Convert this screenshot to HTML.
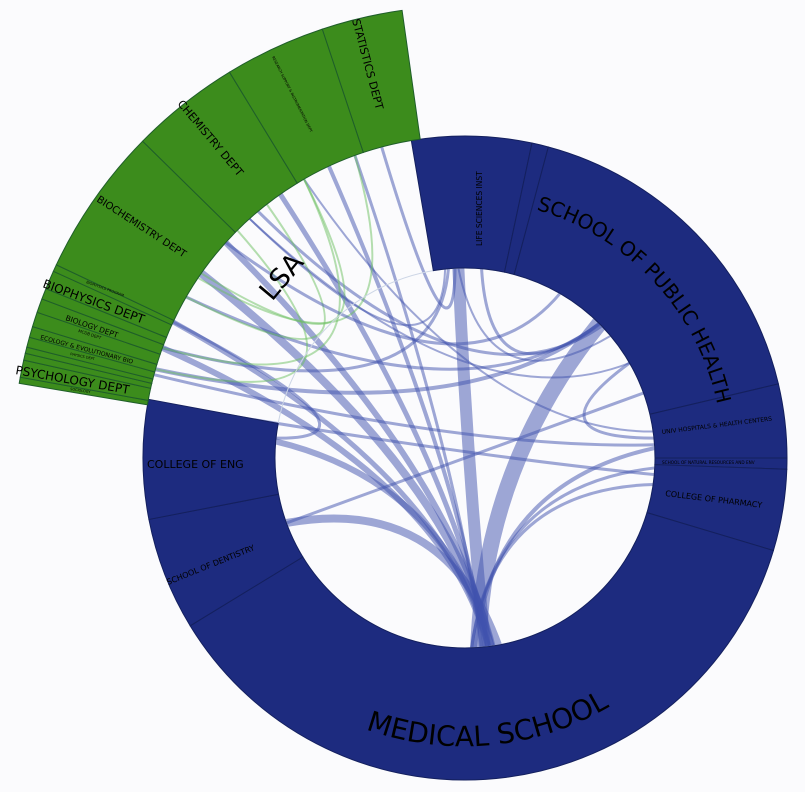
<!DOCTYPE html>
<html><head><meta charset="utf-8"><style>
html,body{margin:0;padding:0;background:#fbfbfd}
svg{display:block}
text{font-family:"DejaVu Sans","Liberation Sans",sans-serif;fill:#000}
</style></head><body>
<svg id="chart" width="805" height="792" viewBox="0 0 805 792" xmlns="http://www.w3.org/2000/svg">
<rect width="805" height="792" fill="#fbfbfd"/>
<g id="chords"></g>
<circle cx="465" cy="458" r="190" fill="none" stroke="#cdd6e6" stroke-width="1"/>
<g id="segs"></g>
<g id="labels">
<defs>
<path id="phPath" d="M 536.2 209.7 A 258 258 0 0 1 716.3 400.0"/>
<path id="msPath" d="M 360 727 A 288 288 0 0 0 645 682"/>
</defs>
<text font-size="20"><textPath href="#phPath">SCHOOL OF PUBLIC HEALTH</textPath></text>
<text font-size="28"><textPath href="#msPath" startOffset="6">MEDICAL SCHOOL</textPath></text>
<text font-size="11" transform="translate(352,20) rotate(75)">STATISTICS DEPT</text>
<text font-size="3.5" transform="translate(272,57) rotate(63)">RESEARCH SUPPORT &amp; INSTRUMENTATION DEPT</text>
<text font-size="11" transform="translate(177,104) rotate(50)">CHEMISTRY DEPT</text>
<text font-size="10" transform="translate(96,201) rotate(33)">BIOCHEMISTRY DEPT</text>
<text font-size="27" transform="translate(272,302) rotate(-50)">LSA</text>
<text font-size="12" transform="translate(42,287) rotate(20)">BIOPHYSICS DEPT</text>
<text font-size="3.5" transform="translate(86,283) rotate(20)">BIOPHYSICS PROGRAM</text>
<text font-size="7.5" transform="translate(65,320) rotate(19)">BIOLOGY DEPT</text>
<text font-size="4" transform="translate(78,332) rotate(18)">MCDB DEPT</text>
<text font-size="6" transform="translate(40,339) rotate(15)">ECOLOGY &amp; EVOLUTIONARY BIO</text>
<text font-size="3.5" transform="translate(70,355) rotate(12)">PHYSICS DEPT</text>
<text font-size="12" transform="translate(15,374) rotate(10)">PSYCHOLOGY DEPT</text>
<text font-size="3.5" transform="translate(70,390) rotate(9)">SOCIOLOGY</text>
<text font-size="7.5" transform="translate(482,246) rotate(-90)">LIFE SCIENCES INST</text>
<text font-size="6" transform="translate(662,434) rotate(-7)">UNIV HOSPITALS &amp; HEALTH CENTERS</text>
<text font-size="4.2" transform="translate(662,464)">SCHOOL OF NATURAL RESOURCES AND ENV</text>
<text font-size="8" transform="translate(665,496) rotate(7)">COLLEGE OF PHARMACY</text>
<text font-size="11" x="147" y="468">COLLEGE OF ENG</text>
<text font-size="8" transform="translate(168,585) rotate(-22)">SCHOOL OF DENTISTRY</text>
</g>
</svg>
<script>
const CX = 465, CY = 458;
// segment data: [name, startAngle, endAngle, group]
const segNames = ["life-sciences-inst","small-blue-1","school-of-public-health","univ-hospitals","school-of-nat-res","college-of-pharmacy","medical-school","school-of-dentistry","college-of-eng",
"sociology","psychology-dept","small-lsa-a","small-lsa-b","ecology-dept","small-lsa-c","biology-dept","small-lsa-d","biophysics-dept","small-lsa-e","small-lsa-f","biochemistry-dept","chemistry-dept","research-dept","statistics-dept"];
const segStart = [-99.6,-78,-75,-13.3,0,2,16.7,148.6,169, 189.5,190.3,192.5,193.4,194.2,195.5,196.9,198.8,200.6,202,204.4,205.3,224.5,238.6,251.6];
const segEnd   = [-78,-75,-13.3,0,2,16.7,148.6,169,190.5, 190.3,192.5,193.4,194.2,195.5,196.9,198.8,200.6,202,204.4,205.3,224.5,238.6,251.6,262];
const segGroup = ["b","b","b","b","b","b","b","b","b","g","g","g","g","g","g","g","g","g","g","g","g","g","g","g"];
// chords: source angle, target angle, weight
const chordSrc = [84,86,83,83,82,82,83,84,85,82,80,87,88,88,-45,-45,-44,-45,-40,-95,-93,-96,-6,-4,-8,5,186,160,215,214,210,200,196,222,228];
const chordTgt = [-92,-45,200,205,215,222,235,245,250,185,160,-3,3,8,196,210,230,-85,-92,200,255,228,-30,195,240,190,205,-20,240,250,232,240,225,-60,-30];
const chordW   = [12,16,6,5,8,6,5,4,3,6,8,4,3,3,4,3,3,3,2,3,3,2,3,3,2,3,3,3,2,2,2,2,2,3,2];
const chordGroup = ["b","b","b","b","b","b","b","b","b","b","b","b","b","b","b","b","b","b","b","b","b","b","b","b","b","b","b","b","g","g","g","g","g","b","b"];

const NS = "http://www.w3.org/2000/svg";
function pt(r, a){const t=a*Math.PI/180;return [CX+r*Math.cos(t), CY+r*Math.sin(t)];}
function inGreen(a){const x=((a%360)+360)%360;return x>189 && x<262.5;}
function anchorR(a){return inGreen(a)?322:190;}
function sector(r0,r1,a0,a1){
  const p1=pt(r1,a0),p2=pt(r1,a1),p3=pt(r0,a1),p4=pt(r0,a0);
  const lg=(a1-a0)>180?1:0;
  return `M${p1[0]} ${p1[1]}A${r1} ${r1} 0 ${lg} 1 ${p2[0]} ${p2[1]}L${p3[0]} ${p3[1]}A${r0} ${r0} 0 ${lg} 0 ${p4[0]} ${p4[1]}Z`;
}
const segG=document.getElementById('segs');
for(let i=0;i<segNames.length;i++){
  const g=segGroup[i]==="g";
  const p=document.createElementNS(NS,'path');
  p.setAttribute('d', g?sector(322,452,segStart[i],segEnd[i]):sector(190,322,segStart[i],segEnd[i]));
  p.setAttribute('fill', g?'#3c8c1c':'#1d2b7f');
  p.setAttribute('stroke', g?'#1f5e2a':'#14205e');
  p.setAttribute('stroke-width','1');
  
  
  segG.appendChild(p);
}
const chG=document.getElementById('chords');
for(let i=0;i<chordSrc.length;i++){
  const a=chordSrc[i],b=chordTgt[i];
  const p1=pt(anchorR(a),a),p2=pt(anchorR(b),b);
  let d=Math.abs(((b-a)%360+540)%360-180);
  const k=Math.max(0,(180-d)/180)*0.4;
  const mid=(a+b)/2+((Math.abs(b-a)>180)?180:0);
  const c=pt(190*k,mid);
  const p=document.createElementNS(NS,'path');
  p.setAttribute('d',`M${p1[0]} ${p1[1]}Q${c[0]} ${c[1]} ${p2[0]} ${p2[1]}`);
  p.setAttribute('fill','none');
  p.setAttribute('stroke', chordGroup[i]==="g"?'#6cc060':'#3f52ad');
  p.setAttribute('stroke-opacity','0.5');
  p.setAttribute('stroke-width', chordW[i]);
  
  
  chG.appendChild(p);
}
</script>
</body></html>
